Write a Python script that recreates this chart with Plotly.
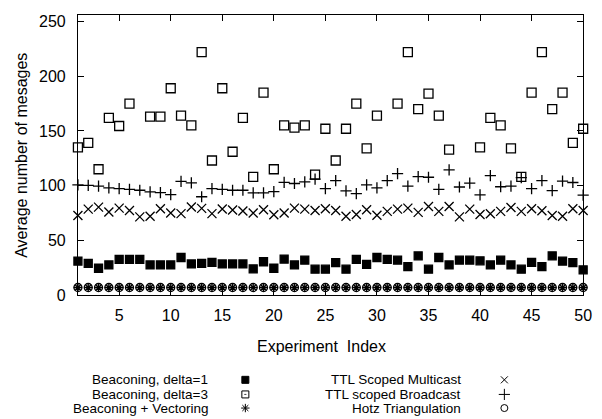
import plotly.graph_objects as go

# The page body has an 8px default margin, so the figure is sized to fill the
# 602x419 window from (8, 8); layout positions below are given in page pixels.
PAGE_W, PAGE_H = 602, 419
OFF = 8
W, H = PAGE_W - OFF, PAGE_H - OFF
FONT = "Liberation Sans, Arial, Helvetica, sans-serif"

experiment_index = list(range(1, 51))

beacon_delta1 = [31.1, 29.1, 24.6, 27.6, 32.6, 32.6, 32.6, 27.6, 27.6, 27.6,
                 34.4, 28.5, 29.1, 30.0, 28.5, 28.5, 28.5, 24.0, 30.5, 24.6,
                 32.9, 27.6, 32.0, 23.7, 23.7, 29.7, 23.7, 32.6, 28.2, 34.4,
                 32.6, 32.0, 26.1, 35.9, 23.7, 34.4, 27.6, 32.0, 32.0, 31.4,
                 27.6, 32.0, 27.6, 23.7, 30.0, 26.1, 35.9, 31.1, 29.7, 23.1]

beacon_delta3 = [135, 139, 115, 162, 154.5, 175, None, 163, 163, 189,
                 164, 155, 222, 123, 189, 131, 162, 108, 185, 115,
                 155, 153, 155, 110, 152, 123, 152, 175, 134, 164,
                 None, 175, 222, 170, 184, 164, 133, None, None, 135,
                 162, 155, 134, 108, 185, 222, 170, 185, 139, 152]

beacon_vectoring = [7.0, 7.0, 7.0, 7.0, 7.0, 7.0, 7.0, 7.0, 7.0, 7.0,
                    7.0, 7.0, 7.0, 7.0, 7.0, 7.0, 7.0, 7.0, 7.0, 7.0,
                    7.0, 7.0, 7.0, 7.0, 7.0, 7.0, 7.0, 7.0, 7.0, 7.0,
                    7.0, 7.0, 7.0, 7.0, 7.0, 7.0, 7.0, 7.0, 7.0, 7.0,
                    7.0, 7.0, 7.0, 7.0, 7.0, 7.0, 7.0, 7.0, 7.0, 7.0]

ttl_multicast = [72.7, 78.6, 80.4, 75.9, 79.5, 77.4, 71.5, 72.1, 78.9, 75.0,
                 74.5, 80.5, 79.3, 74.5, 78.7, 77.8, 76.8, 75.0, 78.0, 73.5,
                 75.0, 79.5, 78.6, 77.4, 78.9, 77.4, 72.1, 73.6, 78.0, 73.0,
                 76.5, 78.6, 79.5, 75.6, 81.0, 76.5, 81.0, 71.5, 78.6, 73.6,
                 74.4, 76.5, 80.1, 76.5, 78.9, 77.1, 72.7, 72.1, 78.9, 77.4]

ttl_broadcast = [100.8, 100.2, 99.6, 97.9, 97.3, 96.7, 95.8, 94.3, 93.7, 91.9,
                 104.0, 102.6, 89.9, 97.3, 96.7, 95.8, 95.8, 93.5, 93.5, 94.5,
                 103.0, 102.0, 103.5, 106.0, 97.3, 104.7, 95.2, 92.8, 100.7, 98.0,
                 104.7, 111.0, 99.5, 108.3, 107.7, 96.7, 114.5, 98.8, 102.3, 91.6,
                 109.1, 99.0, 99.6, 107.4, 97.3, 104.7, 95.5, 104.1, 102.9, 91.3]

hotz_triangulation = [7.0, 7.0, 7.0, 7.0, 7.0, 7.0, 7.0, 7.0, 7.0, 7.0,
                      7.0, 7.0, 7.0, 7.0, 7.0, 7.0, 7.0, 7.0, 7.0, 7.0,
                      7.0, 7.0, 7.0, 7.0, 7.0, 7.0, 7.0, 7.0, 7.0, 7.0,
                      7.0, 7.0, 7.0, 7.0, 7.0, 7.0, 7.0, 7.0, 7.0, 7.0,
                      7.0, 7.0, 7.0, 7.0, 7.0, 7.0, 7.0, 7.0, 7.0, 7.0]

x_ticks = [5, 10, 15, 20, 25, 30, 35, 40, 45, 50]
y_ticks = [0, 50, 100, 150, 200, 250]

series = [
    ("Beaconing, delta=1", beacon_delta1, "square", 8, "square", 7),
    ("Beaconing, delta=3", beacon_delta3, "square-open", 9, "square-open-dot", 7),
    ("Beaconing + Vectoring", beacon_vectoring, "asterisk-open", 7, "asterisk-open", 7),
    ("TTL Scoped Multicast", ttl_multicast, "x-thin-open", 9, "x-thin-open", 7),
    ("TTL scoped Broadcast", ttl_broadcast, "cross-thin-open", 8, "cross-thin-open", 8),
    ("Hotz Triangulation", hotz_triangulation, "circle-open", 8, "circle-open", 7),
]

fig = go.Figure()
for name, vals, sym, size, _, _ in series:
    fig.add_trace(go.Scatter(
        x=experiment_index, y=vals, mode="markers", name=name,
        marker=dict(symbol=sym, size=size, color="black",
                    line=dict(color="black", width=1.3)),
        cliponaxis=False, showlegend=False))

# gnuplot-style key below the plot: text right-aligned, sample to the right
rows = [388, 403, 417]
cols = [(212, 249), (469, 512)]
annotations = []
for i, (name, _, _, _, ksym, ksize) in enumerate(series):
    c, r = divmod(i, 3)
    tx, kx = cols[c]
    ky = rows[r]
    annotations.append(dict(x=tx, y=ky, xref="x2", yref="y2", text=name,
                            showarrow=False, xanchor="right", yanchor="middle",
                            borderpad=0,
                            font=dict(family=FONT, size=13.5, color="black")))
    fig.add_trace(go.Scatter(
        x=[kx], y=[ky], xaxis="x2", yaxis="y2", mode="markers",
        marker=dict(symbol=ksym, size=ksize, color="black",
                    line=dict(color="black", width=1)),
        cliponaxis=False, showlegend=False, hoverinfo="skip"))

annotations.append(dict(x=326, y=354, xref="x2", yref="y2",
                        text="Experiment\u00a0 Index", showarrow=False,
                        xanchor="center", yanchor="middle",
                        font=dict(family=FONT, size=16, color="black")))
annotations.append(dict(x=21, y=157, xref="x2", yref="y2",
                        text="Average number of mesages", showarrow=False,
                        textangle=-90, xanchor="center", yanchor="middle",
                        font=dict(family=FONT, size=16, color="black")))

axis_common = dict(showline=True, linecolor="black", linewidth=1, mirror="ticks",
                   ticks="inside", ticklen=6, tickcolor="black", tickwidth=1,
                   showgrid=False, zeroline=False,
                   tickfont=dict(family=FONT, size=16, color="black"))

# plot box in page pixels
BOX_L, BOX_R, BOX_T, BOX_B = 79, 592, 13, 301

fig.update_layout(
    width=W, height=H,
    margin=dict(l=0, r=0, t=0, b=0),
    paper_bgcolor="white", plot_bgcolor="rgba(0,0,0,0)",
    showlegend=False,
    xaxis=dict(domain=[(BOX_L - OFF) / W, (BOX_R - OFF) / W], range=[1, 50],
               tickvals=x_ticks, ticklabelstandoff=6, anchor="y", **axis_common),
    yaxis=dict(domain=[1 - (BOX_B - OFF) / H, 1 - (BOX_T - OFF) / H], range=[0, 256],
               tickvals=y_ticks, ticklabelstandoff=8, anchor="x", **axis_common),
    xaxis2=dict(domain=[0, 1], range=[OFF, PAGE_W], visible=False, anchor="y2"),
    yaxis2=dict(domain=[0, 1], range=[PAGE_H, OFF], visible=False, anchor="x2"),
    annotations=annotations,
)

fig.write_html("out.html")
